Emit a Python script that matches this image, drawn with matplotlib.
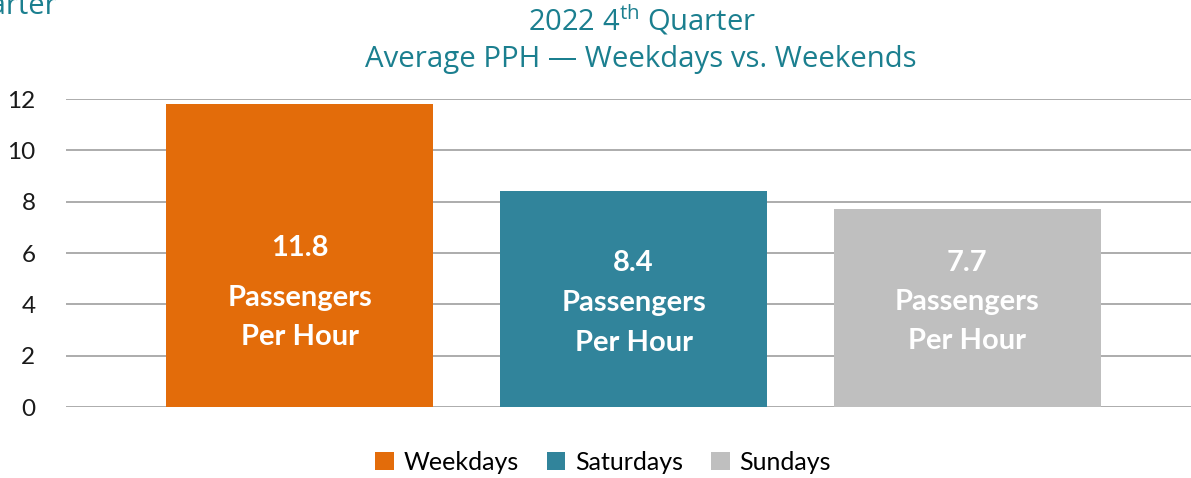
import matplotlib
matplotlib.use("Agg")
import matplotlib.pyplot as plt
from matplotlib.patches import Patch

categories = ["Weekdays", "Saturdays", "Sundays"]
values = [11.8, 8.4, 7.7]
bar_labels = ["11.8", "8.4", "7.7"]
yticks = [0, 2, 4, 6, 8, 10, 12]
colors = ["#E36C0A", "#31849B", "#BFBFBF"]
title_color = "#1B7F8F"

plt.rcParams["font.family"] = ["Lato", "DejaVu Sans"]
plt.rcParams["mathtext.fontset"] = "custom"
plt.rcParams["mathtext.rm"] = "Open Sans"

W, H = 1191, 478
fig = plt.figure(figsize=(W / 100, H / 100), dpi=100)
ax = fig.add_axes([66 / W, 1 - 407 / H, (W - 66) / W, (407 - 99) / H])

x = list(range(len(categories)))
ax.bar(x, values, width=0.8, color=colors, zorder=3)
ax.set_xlim(-0.70, 2.67)
ax.set_ylim(0, 12)
ax.set_yticks(yticks)
ax.set_yticklabels([str(t) for t in yticks], fontsize=17.5, color="#1a1a1a")
ax.tick_params(axis="y", length=0, pad=22)
ax.set_xticks([])
ax.grid(axis="y", color="#A6A6A6", linewidth=1.3, zorder=0)
for s in ax.spines.values():
    s.set_visible(False)

# in-bar labels
offsets = [(6.2, 4.25, 2.72), (5.6, 4.05, 2.5), (5.6, 4.1, 2.57)]
for xi, lab, (y1, y2, y3) in zip(x, bar_labels, offsets):
    for yy, t in ((y1, lab), (y2, "Passengers"), (y3, "Per Hour")):
        ax.text(xi, yy, t, ha="center", va="center", color="white",
                fontsize=21, fontweight="bold", zorder=4)

# titles
fig.text(642 / W, 1 - 20 / H, r"2022 4$^{\mathrm{th}}$ Quarter", ha="center", va="center",
         fontsize=21, color=title_color, family="Open Sans")
fig.text(641 / W, 1 - 59 / H, "Average PPH — Weekdays vs. Weekends", ha="center", va="center",
         fontsize=21.2, color=title_color, family="Open Sans")
fig.text(57 / W, 1 - 13 / H, "Quarter", ha="right", va="baseline",
         fontsize=21, color=title_color, family="Open Sans")

handles = [Patch(facecolor=c, edgecolor="none") for c in colors]
fig.legend(handles, categories, loc="center", bbox_to_anchor=(603 / W, 1 - 462 / H),
           ncol=3, frameon=False, fontsize=18, handlelength=0.75, handleheight=0.75,
           handletextpad=0.4, columnspacing=1.1)

fig.savefig("out.png", dpi=100)
